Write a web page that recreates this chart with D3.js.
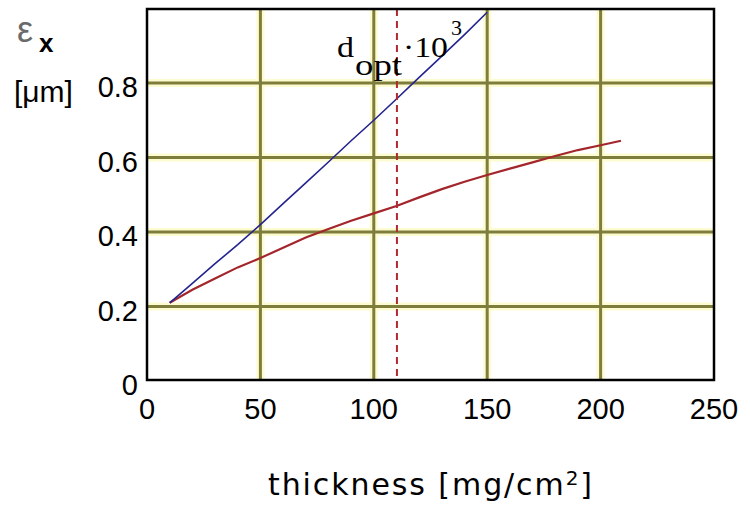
<!DOCTYPE html>
<html>
<head>
<meta charset="utf-8">
<script src="https://cdn.jsdelivr.net/npm/d3@7"></script>
<style>
  body { margin: 0; background: #fff; }
  svg { display: block; }
</style>
</head>
<body>
<div id="chart"></div>
<script>
// values
const blueThickness = [10, 20, 30, 40, 50, 60, 70, 80, 90, 100, 110, 120, 130, 140, 150];
const blueEmit = [0.21, 0.262, 0.315, 0.366, 0.42, 0.476, 0.532, 0.588, 0.645, 0.70, 0.757, 0.815, 0.872, 0.93, 0.99];

const redThickness = [10, 20, 30, 40, 50, 60, 70, 80, 90, 100, 110, 120, 130, 140, 150, 160, 170, 180, 190, 200, 209];
const redEmit = [0.21, 0.245, 0.275, 0.305, 0.33, 0.358, 0.385, 0.408, 0.43, 0.45, 0.47, 0.493, 0.515, 0.535, 0.553, 0.57, 0.587, 0.604, 0.62, 0.633, 0.645];

const dOpt = 110.2;
const xTicks = [0, 50, 100, 150, 200, 250];
const yTicks = [0, 0.2, 0.4, 0.6, 0.8];

const width = 750, height = 505;
const plot = {left: 147, right: 714, top: 9, bottom: 380};

const x = d3.scaleLinear().domain([0, 250]).range([plot.left, plot.right]);
const y = d3.scaleLinear().domain([0, 1]).range([381, 8.5]);

const svg = d3.select("#chart").append("svg")
    .attr("width", width)
    .attr("height", height);

// grid lines (olive, with a faint yellow halo like the original)
const grid = svg.append("g");
const gx = xTicks.filter(d => d > 0 && d < 250);
const gy = yTicks.filter(d => d > 0);
[["#fdfbd0", 8], ["#7f7d3c", 3]].forEach(([col, w]) => {
    grid.selectAll(null).data(gx).enter().append("line")
        .attr("x1", d => x(d)).attr("x2", d => x(d))
        .attr("y1", plot.top).attr("y2", plot.bottom)
        .attr("stroke", col).attr("stroke-width", w);
    grid.selectAll(null).data(gy).enter().append("line")
        .attr("x1", plot.left).attr("x2", plot.right)
        .attr("y1", d => y(d)).attr("y2", d => y(d))
        .attr("stroke", col).attr("stroke-width", w);
});

// clip for data lines
svg.append("defs").append("clipPath").attr("id", "clip")
    .append("rect")
    .attr("x", plot.left).attr("y", plot.top)
    .attr("width", plot.right - plot.left).attr("height", plot.bottom - plot.top);

const line = d3.line().x(d => x(d[0])).y(d => y(d[1]));
const lines = svg.append("g").attr("clip-path", "url(#clip)");

lines.append("path")
    .datum(d3.zip(redThickness, redEmit))
    .attr("d", line)
    .attr("fill", "none")
    .attr("stroke", "#a3262c")
    .attr("stroke-width", 2.2);

lines.append("path")
    .datum(d3.zip(blueThickness, blueEmit))
    .attr("d", line)
    .attr("fill", "none")
    .attr("stroke", "#24248f")
    .attr("stroke-width", 1.6);

// optimum thickness marker
lines.append("line")
    .attr("x1", x(dOpt)).attr("x2", x(dOpt))
    .attr("y1", plot.top).attr("y2", plot.bottom)
    .attr("stroke", "#b02a30")
    .attr("stroke-width", 2)
    .attr("stroke-dasharray", "7,5");

// frame
svg.append("rect")
    .attr("x", plot.left).attr("y", plot.top)
    .attr("width", plot.right - plot.left).attr("height", plot.bottom - plot.top)
    .attr("fill", "none")
    .attr("stroke", "#000")
    .attr("stroke-width", 2.5);

// tick labels
const tickFont = "'Liberation Sans', Arial, sans-serif";
svg.append("g").selectAll("text").data(xTicks).enter().append("text")
    .attr("x", d => x(d))
    .attr("y", 419)
    .attr("text-anchor", "middle")
    .style("font-family", tickFont)
    .style("font-size", "29px")
    .text(d => d);

svg.append("g").selectAll("text").data(yTicks).enter().append("text")
    .attr("x", 138)
    .attr("y", d => y(d) + 14)
    .attr("text-anchor", "end")
    .style("font-family", tickFont)
    .style("font-size", "29px")
    .text(d => d3.format("~g")(d));

// axis titles
const title = svg.append("text")
    .attr("x", 268)
    .attr("y", 495)
    .attr("textLength", 324)
    .attr("lengthAdjust", "spacing")
    .style("font-family", "'DejaVu Sans', sans-serif")
    .style("font-size", "30px");
title.append("tspan").text("thickness [mg/cm");
title.append("tspan").attr("dy", -10).style("font-size", "20px").text("2");
title.append("tspan").attr("dy", 10).text("]");

svg.append("text")
    .attr("x", 17).attr("y", 42)
    .style("font-family", tickFont)
    .style("font-size", "36px")
    .style("fill", "#6a6a6a")
    .text("ε");
svg.append("text")
    .attr("x", 39).attr("y", 52)
    .style("font-family", tickFont)
    .style("font-size", "26px")
    .style("font-weight", "bold")
    .text("x");
svg.append("text")
    .attr("x", 14).attr("y", 102)
    .style("font-family", tickFont)
    .style("font-size", "30px")
    .text("[μm]");

// d_opt · 10^3 annotation
const serif = "'Liberation Serif', 'Times New Roman', serif";
const ann = svg.append("g")
    .style("font-family", serif)
    .style("font-size", "29px");
ann.append("text").attr("x", 337).attr("y", 57)
    .attr("textLength", 17).attr("lengthAdjust", "spacingAndGlyphs").text("d");
ann.append("text").attr("x", 355).attr("y", 75)
    .attr("textLength", 47).attr("lengthAdjust", "spacingAndGlyphs").text("opt");
ann.append("text").attr("x", 403).attr("y", 57)
    .attr("textLength", 45).attr("lengthAdjust", "spacingAndGlyphs").text("·10");
ann.append("text").attr("x", 451).attr("y", 35)
    .style("font-size", "22px").text("3");
</script>
</body>
</html>
